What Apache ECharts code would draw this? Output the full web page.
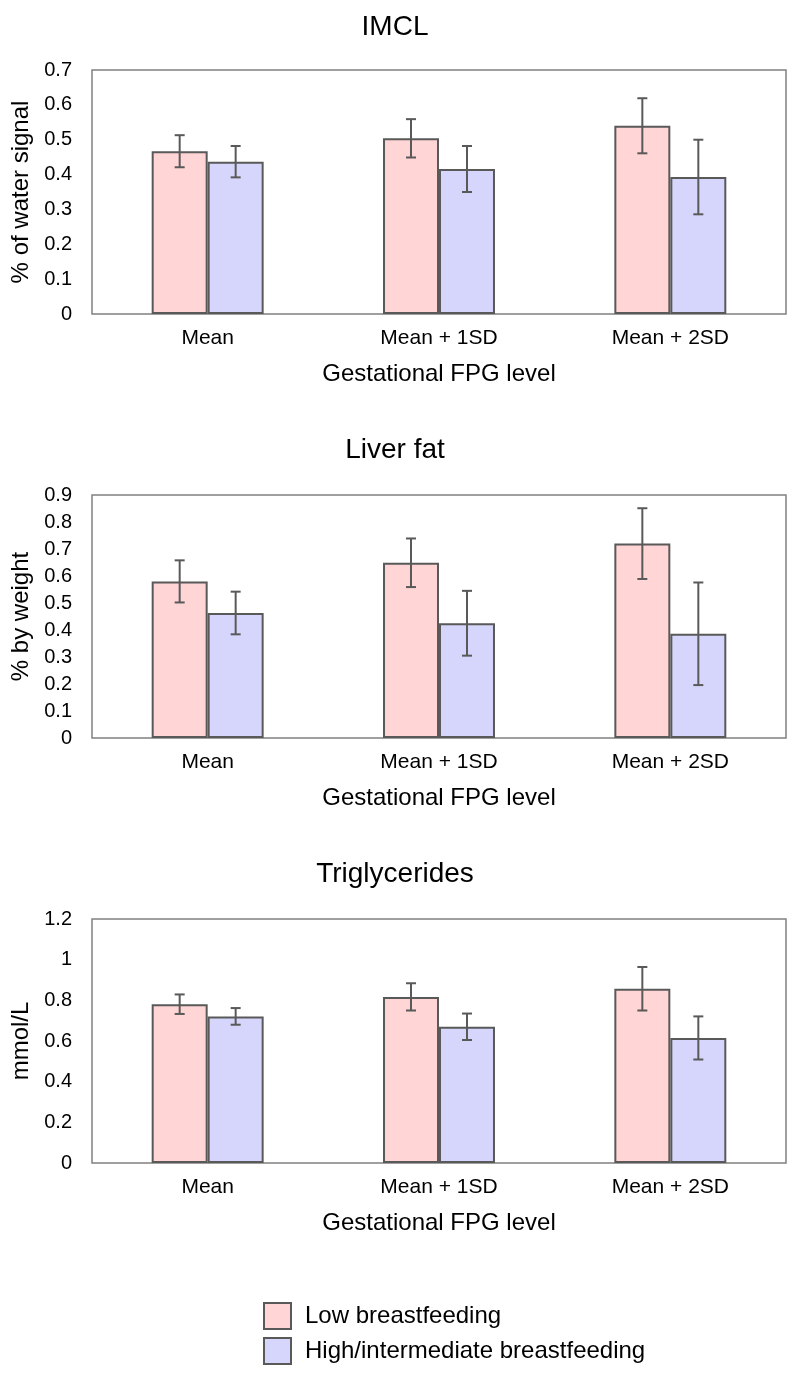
<!DOCTYPE html>
<html>
<head>
<meta charset="utf-8">
<script src="https://cdn.jsdelivr.net/npm/echarts@6/dist/echarts.min.js"></script>
<style>
html,body{margin:0;padding:0;background:#fff;}
#main{width:800px;height:1378px;}
</style>
</head>
<body>
<div id="main"></div>
<script>
const categories = ['Mean', 'Mean + 1SD', 'Mean + 2SD'];
const seriesNames = ['Low breastfeeding', 'High/intermediate breastfeeding'];
const panelTitles = ['IMCL', 'Liver fat', 'Triglycerides'];
const yAxisNames = ['% of water signal', '% by weight', 'mmol/L'];
const xAxisName = 'Gestational FPG level';
const yMax = [0.7, 0.9, 1.2];
const yStep = [0.1, 0.1, 0.2];

// IMCL
const imclLow = [0.467, 0.504, 0.540];
const imclLowErr = [0.046, 0.055, 0.079];
const imclHigh = [0.437, 0.416, 0.393];
const imclHighErr = [0.045, 0.066, 0.107];
// Liver fat
const liverLow = [0.580, 0.649, 0.720];
const liverLowErr = [0.078, 0.090, 0.131];
const liverHigh = [0.463, 0.425, 0.386];
const liverHighErr = [0.079, 0.120, 0.190];
// Triglycerides
const trigLow = [0.781, 0.817, 0.857];
const trigLowErr = [0.048, 0.067, 0.107];
const trigHigh = [0.721, 0.670, 0.615];
const trigHighErr = [0.041, 0.065, 0.106];

const lowVals = [imclLow, liverLow, trigLow];
const lowErrs = [imclLowErr, liverLowErr, trigLowErr];
const highVals = [imclHigh, liverHigh, trigHigh];
const highErrs = [imclHighErr, liverHighErr, trigHighErr];

const pink = '#FFD5D6';
const blue = '#D6D6FC';
const edge = '#595959';
const FONT = 'Liberation Sans, Arial, sans-serif';

const gridTops = [70, 495, 919];
const gridH = [244, 243, 244];
const titleTops = [8, 431, 855];

const BAR_FRAC = 0.242;

function errSeries(vals, errs, idx, sign, name) {
  return {
    type: 'custom',
    name: name + ' err',
    xAxisIndex: idx, yAxisIndex: idx,
    z: 5,
    silent: true,
    data: vals.map((v, i) => [i, v, errs[i]]),
    renderItem: function (params, api) {
      const ci = api.value(0), v = api.value(1), e = api.value(2);
      const band = api.size([1, 0])[0];
      const c = api.coord([ci, v]);
      const x = c[0] + sign * band * BAR_FRAC / 2;
      const yTop = api.coord([ci, v + e])[1];
      const yBot = api.coord([ci, v - e])[1];
      const cap = 5;
      const st = { stroke: edge, lineWidth: 2, fill: null };
      return {
        type: 'group',
        children: [
          { type: 'line', shape: { x1: x, y1: yTop, x2: x, y2: yBot }, style: st },
          { type: 'line', shape: { x1: x - cap, y1: yTop, x2: x + cap, y2: yTop }, style: st },
          { type: 'line', shape: { x1: x - cap, y1: yBot, x2: x + cap, y2: yBot }, style: st }
        ]
      };
    }
  };
}

const grids = [], xAxes = [], yAxes = [], series = [], titles = [];
for (let i = 0; i < 3; i++) {
  titles.push({
    text: panelTitles[i], left: 390, top: titleTops[i], textAlign: 'center',
    textStyle: { fontFamily: FONT, fontSize: 28, fontWeight: 'normal', color: '#000' }
  });
  grids.push({
    left: 92, right: 14, top: gridTops[i], height: gridH[i],
    show: true, borderColor: '#808080', borderWidth: 1.5, backgroundColor: '#fff'
  });
  xAxes.push({
    type: 'category', gridIndex: i, data: categories,
    axisLine: { show: false }, axisTick: { show: false },
    axisLabel: { fontFamily: FONT, fontSize: 21, color: '#000', margin: 14 },
    name: xAxisName, nameLocation: 'middle', nameGap: 48,
    nameTextStyle: { fontFamily: FONT, fontSize: 24, color: '#000' }
  });
  yAxes.push({
    type: 'value', gridIndex: i, min: 0, max: yMax[i], interval: yStep[i],
    axisLine: { show: false }, axisTick: { show: false }, splitLine: { show: false },
    axisLabel: { fontFamily: FONT, fontSize: 20, color: '#000', margin: 20 },
    name: yAxisNames[i], nameLocation: 'middle', nameGap: 54, nameRotate: 90,
    nameTextStyle: { fontFamily: FONT, fontSize: 24, color: '#000' }
  });
  series.push({
    type: 'bar', name: seriesNames[0], xAxisIndex: i, yAxisIndex: i,
    data: lowVals[i], barGap: '0%', barCategoryGap: '51.6%',
    itemStyle: { color: pink, borderColor: edge, borderWidth: 2 }
  });
  series.push({
    type: 'bar', name: seriesNames[1], xAxisIndex: i, yAxisIndex: i,
    data: highVals[i], barGap: '0%', barCategoryGap: '51.6%',
    itemStyle: { color: blue, borderColor: edge, borderWidth: 2 }
  });
  series.push(errSeries(lowVals[i], lowErrs[i], i, -1, seriesNames[0]));
  series.push(errSeries(highVals[i], highErrs[i], i, 1, seriesNames[1]));
}

const chart = echarts.init(document.getElementById('main'), null, { renderer: 'canvas' });
chart.setOption({
  animation: false,
  backgroundColor: '#fff',
  title: titles,
  grid: grids,
  xAxis: xAxes,
  yAxis: yAxes,
  series: series,
  legend: {
    data: seriesNames,
    orient: 'vertical', left: 258, top: 1297,
    itemWidth: 27, itemHeight: 26, itemGap: 7,
    icon: 'rect',
    selectedMode: false,
    textStyle: { fontFamily: FONT, fontSize: 24, color: '#000', padding: [0, 0, 0, 9] }
  }
});
</script>
</body>
</html>
